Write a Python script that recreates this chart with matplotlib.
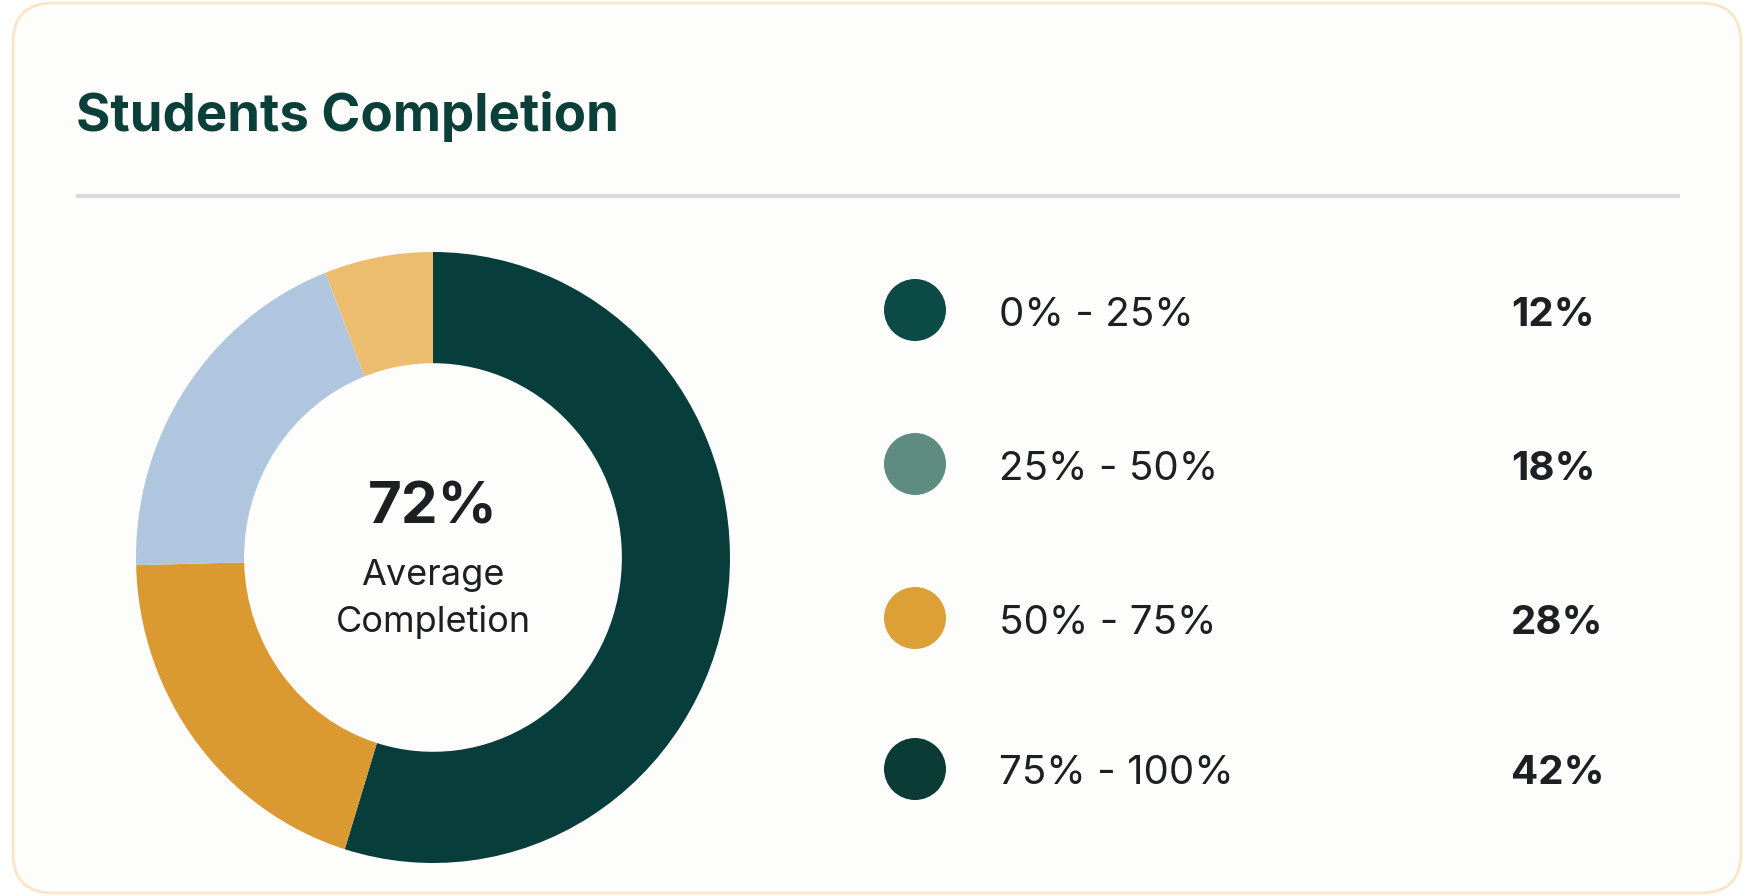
import matplotlib.pyplot as plt
from matplotlib.patches import FancyBboxPatch, Circle

# donut shares as drawn (clockwise from 12 o'clock)
ring_shares = [54.8, 19.8, 19.5, 5.9]
ring_colors = ['#073d3a', '#da9a31', '#b0c6de', '#ecbd6e']

# legend rows
ranges = ['0% - 25%', '25% - 50%', '50% - 75%', '75% - 100%']
values = ['12%', '18%', '28%', '42%']
dot_colors = ['#0b4a45', '#5f8c80', '#dca036', '#0a3b35']

title = 'Students Completion'
center_value = '72%'
center_label = 'Average\nCompletion'

FONT = ['Inter', 'DejaVu Sans']

W, H = 1754, 896
fig = plt.figure(figsize=(W / 100, H / 100), dpi=100)
fig.patch.set_facecolor('white')

# main axes in pixel coords, y going down
ax = fig.add_axes([0, 0, 1, 1])
ax.set_xlim(0, W)
ax.set_ylim(H, 0)
ax.axis('off')

card = FancyBboxPatch((13 + 40, 3 + 40), 1741 - 13 - 80, 893 - 3 - 80,
                      boxstyle='round,pad=40', fc='#fdfdfc', ec='#fbe4c8', lw=2)
ax.add_patch(card)

ax.text(76, 131, title, fontsize=38, fontweight='bold', color='#0b3f3a',
        family=FONT, va='baseline', ha='left')
ax.plot([76, 1680], [196, 196], color='#d6dcdc', lw=3, solid_capstyle='butt')

# donut (the reference ring is a touch taller than wide)
cx, cy, rx, ry = 433, 557.5, 297, 305.5
pax = fig.add_axes([(cx - rx) / W, (H - cy - ry) / H, 2 * rx / W, 2 * ry / H])
pax.pie(ring_shares, colors=ring_colors, startangle=90, counterclock=False,
        radius=1, wedgeprops=dict(width=0.364, edgecolor='none'))
pax.set_xlim(-1, 1)
pax.set_ylim(-1, 1)
pax.set_aspect('auto')
pax.axis('off')

ax.text(cx, 509, center_value, fontsize=42, fontweight='bold', color='#1e1f22',
        family=FONT, ha='center', va='center', zorder=5)
ax.text(cx, 599, center_label, fontsize=26, color='#1e1f22', linespacing=1.45,
        family=FONT, ha='center', va='center', zorder=5)

# legend
row_y = [310, 464, 618, 769]
for y, lab, val, c in zip(row_y, ranges, values, dot_colors):
    ax.add_patch(Circle((915, y), 31, fc=c, ec='none'))
    ax.text(999, y + 5, lab, fontsize=29, color='#1e1f22',
            family=FONT, ha='left', va='center')
    ax.text(1511, y + 5, val, fontsize=29, fontweight='bold', color='#1e1f22',
            family=FONT, ha='left', va='center')

fig.savefig('out.png', dpi=100, facecolor=fig.get_facecolor())
